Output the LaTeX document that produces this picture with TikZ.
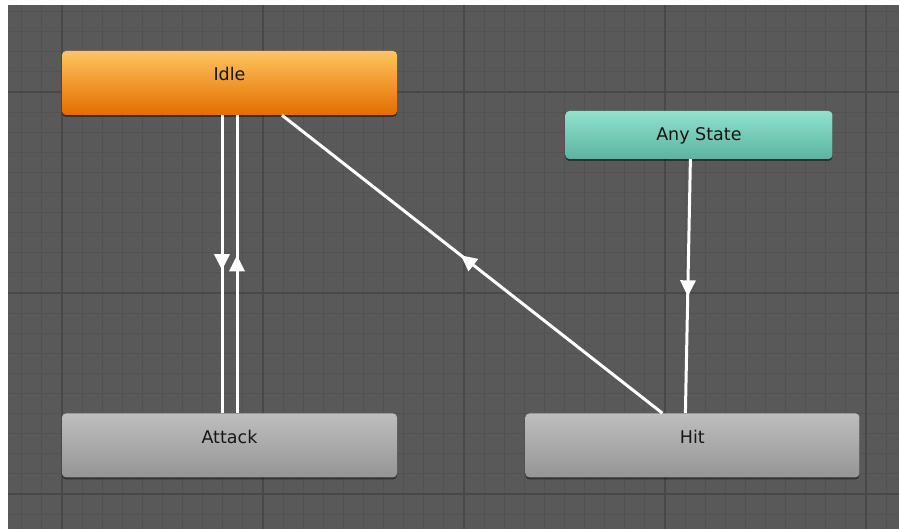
\documentclass[tikz,border=0pt]{standalone}
\usepackage{fontspec}
\setsansfont{DejaVu Sans}
\usetikzlibrary{arrows.meta, positioning, shadows, decorations.markings}
\definecolor{anmbg}{HTML}{595959}
\definecolor{anmminor}{HTML}{525252}
\definecolor{anmmajor}{HTML}{484848}
\definecolor{anmtext}{HTML}{161616}
\definecolor{idletop}{HTML}{FDC65E}
\definecolor{idlebot}{HTML}{E36C00}
\definecolor{anytop}{HTML}{90E2CC}
\definecolor{anybot}{HTML}{5CB3A1}
\definecolor{greytop}{HTML}{BEBEBE}
\definecolor{greybot}{HTML}{959595}
\tikzset{
  state/.style={rectangle, rounded corners=4pt, inner sep=0pt, minimum width=335pt,
    text height=30pt, text depth=34pt, font=\sffamily\fontsize{17.5}{20}\selectfont, text=anmtext,
    top color=greytop, bottom color=greybot,
    drop shadow={shadow xshift=0pt, shadow yshift=-2pt, opacity=0.45, fill=black}},
  anystate/.style={state, minimum width=267pt, text depth=18pt, top color=anytop, bottom color=anybot},
  idlestate/.style={state, top color=idletop, bottom color=idlebot},
  minorline/.style={anmminor, line width=1pt},
  majorline/.style={anmmajor, line width=1.3pt},
  trans/.style={draw=white, line width=3pt, postaction={decorate},
    decoration={markings, mark=at position #1 with {\arrow{Triangle[width=15pt, length=16pt]}}}},
}
\begin{document}
\begin{tikzpicture}[x=1pt, y=-1pt]
  \useasboundingbox (0,0) rectangle (899,529);
  \fill[white] (0,0) rectangle (899,529);
  \begin{scope}
    \clip (8,5) rectangle (899,529);
    \fill[anmbg] (8,5) rectangle (899,529);
    \foreach \i in {-2,...,41}
      \draw[minorline] ({62+20.1*\i},5) -- ({62+20.1*\i},529);
    \foreach \j in {-4,...,21}
      \draw[minorline] (8,{92+20.1*\j}) -- (899,{92+20.1*\j});
    \foreach \i in {0,...,4}
      \draw[majorline] ({62+201*\i},5) -- ({62+201*\i},529);
    \foreach \j in {0,...,2}
      \draw[majorline] (8,{92+201*\j}) -- (899,{92+201*\j});
  \end{scope}

  \node[idlestate] (idle) at (229.5,83) {Idle};
  \node[state, below=298pt of idle] (attack) {Attack};
  \node[state, minimum width=334pt, right=128pt of attack] (hit) {Hit};
  \node[anystate, above=254pt of hit, xshift=6.5pt] (any) {Any State};

  \draw[trans=0.52] ([xshift=-7.5pt]idle.south) -- ([xshift=-7.5pt]attack.north);
  \draw[trans=0.53] ([xshift=7.5pt]attack.north) -- ([xshift=7.5pt]idle.south);
  \draw[trans=0.53] ([xshift=-30pt]hit.north) -- ([xshift=52.5pt]idle.south);
  \draw[trans=0.54] ([xshift=-8.5pt]any.south) -- ([xshift=-7pt]hit.north);
\end{tikzpicture}
\end{document}
